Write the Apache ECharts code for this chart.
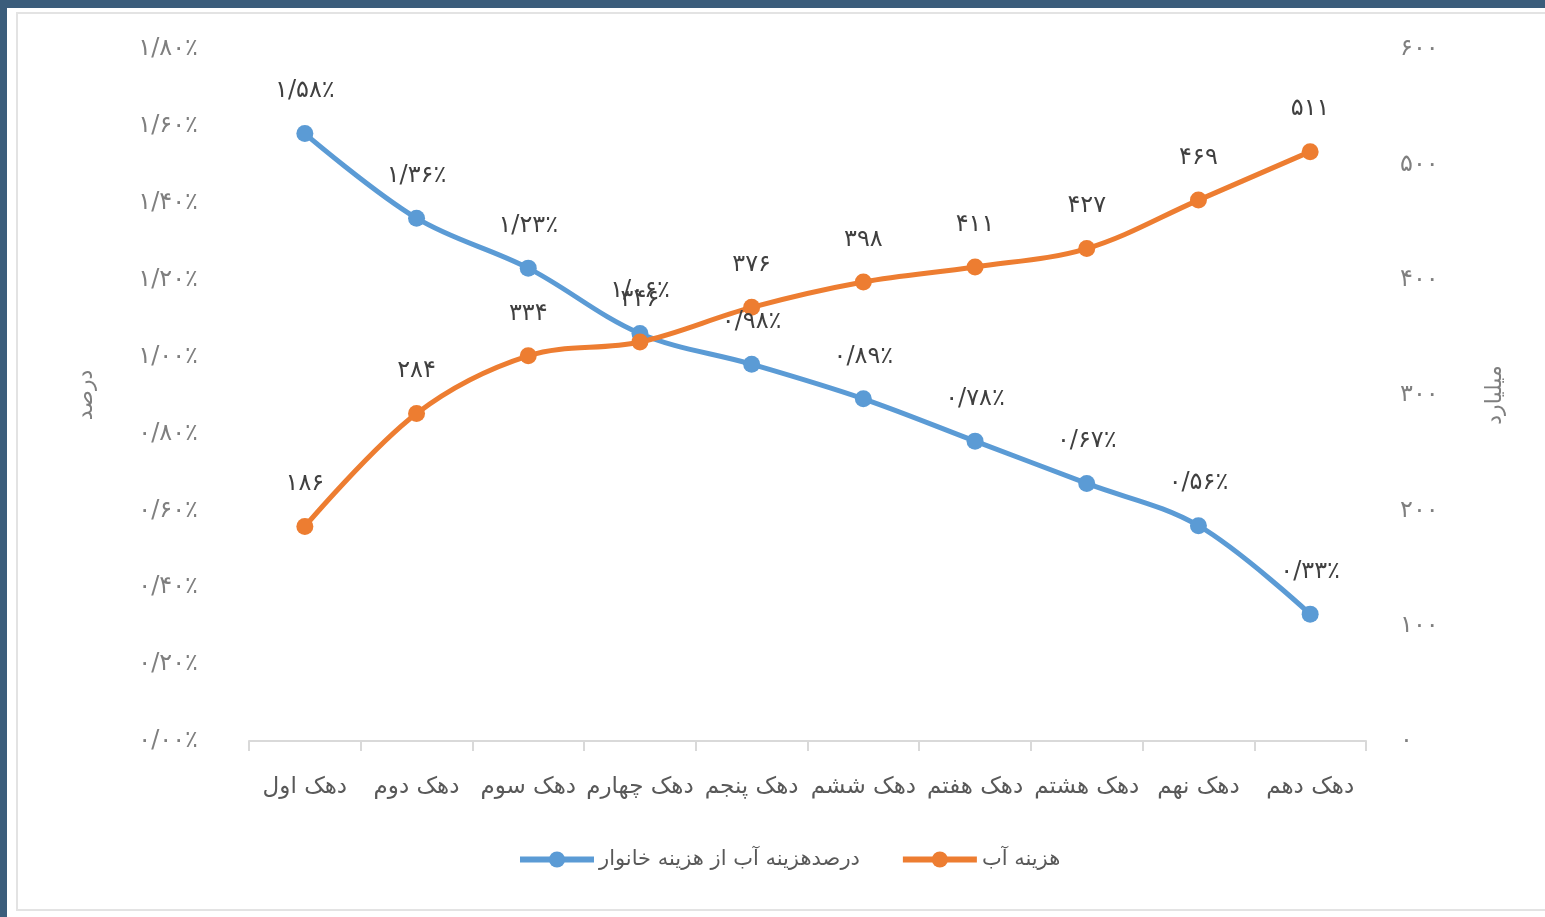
<!DOCTYPE html>
<html>
<head>
<meta charset="utf-8">
<script src="https://cdn.jsdelivr.net/npm/echarts@6/dist/echarts.min.js"></script>
<style>
  html, body { margin: 0; padding: 0; width: 1545px; height: 917px; overflow: hidden; background: #3b5d7b; }
  #panel { position: absolute; left: 7px; top: 8px; width: 1538px; height: 909px; background: #ffffff; }
  #frame { position: absolute; left: 16px; top: 12px; width: 1540px; height: 899px; border: 2px solid #e3e3e3; box-sizing: border-box; }
  #chart { position: absolute; left: 0; top: 0; width: 1545px; height: 917px; }
</style>
</head>
<body>
<div id="panel"></div>
<div id="frame"></div>
<div id="chart"></div>
<script>
const categories = ['دهک اول', 'دهک دوم', 'دهک سوم', 'دهک چهارم', 'دهک پنجم', 'دهک ششم', 'دهک هفتم', 'دهک هشتم', 'دهک نهم', 'دهک دهم'];
const percentShare = [1.58, 1.36, 1.23, 1.06, 0.98, 0.89, 0.78, 0.67, 0.56, 0.33];
const waterCost = [186, 284, 334, 346, 376, 398, 411, 427, 469, 511];
const percentSeriesName = 'درصدهزینه آب از هزینه خانوار';
const costSeriesName = 'هزینه آب';
const leftAxisName = 'درصد';
const rightAxisName = 'میلیارد';

const faDigits = '۰۱۲۳۴۵۶۷۸۹';
function toFa(s) { return String(s).replace(/[0-9]/g, d => faDigits[+d]).replace('.', '/'); }
function pct(v) { return toFa(v.toFixed(2)) + '٪'; }

const font = 'DejaVu Sans';
const chart = echarts.init(document.getElementById('chart'));
chart.setOption({
  backgroundColor: 'transparent',
  animation: false,
  textStyle: { fontFamily: font },
  grid: { left: 249, right: 179, top: 49, bottom: 176 },
  legend: {
    bottom: 42,
    left: 512,
    itemGap: 40,
    itemWidth: 74,
    itemHeight: 20,
    lineStyle: { width: 6 },
    textStyle: { fontSize: 21, color: '#595959', fontFamily: font },
    data: [percentSeriesName, costSeriesName]
  },
  xAxis: {
    type: 'category',
    data: categories,
    boundaryGap: true,
    axisLine: { lineStyle: { color: '#d9d9d9', width: 2 } },
    axisTick: { show: true, length: 10, lineStyle: { color: '#d9d9d9', width: 2 } },
    axisLabel: { fontSize: 23, color: '#595959', margin: 35, fontFamily: font, interval: 0 }
  },
  yAxis: [
    {
      type: 'value', min: 0, max: 1.8, interval: 0.2,
      name: leftAxisName, nameLocation: 'middle', nameGap: 152, nameRotate: 90,
      nameTextStyle: { fontSize: 22, color: '#7f7f7f', fontFamily: font },
      axisLine: { show: false }, axisTick: { show: false }, splitLine: { show: false },
      axisLabel: { fontSize: 24, color: '#7f7f7f', margin: 51, formatter: v => pct(v), fontFamily: font }
    },
    {
      type: 'value', min: 0, max: 600, interval: 100,
      name: rightAxisName, nameLocation: 'middle', nameGap: 118, nameRotate: 90,
      nameTextStyle: { fontSize: 22, color: '#7f7f7f', fontFamily: font },
      axisLine: { show: false }, axisTick: { show: false }, splitLine: { show: false },
      axisLabel: { fontSize: 24, color: '#7f7f7f', margin: 34, formatter: v => toFa(v), fontFamily: font }
    }
  ],
  series: [
    {
      name: percentSeriesName, type: 'line', yAxisIndex: 0, data: percentShare,
      smooth: 0.35, symbol: 'circle', symbolSize: 17,
      lineStyle: { color: '#5b9bd5', width: 5 },
      itemStyle: { color: '#5b9bd5' },
      label: { show: true, position: 'top', distance: 22, fontSize: 24, color: '#404040', fontFamily: font, formatter: p => pct(p.value) }
    },
    {
      name: costSeriesName, type: 'line', yAxisIndex: 1, data: waterCost,
      smooth: 0.35, symbol: 'circle', symbolSize: 17,
      lineStyle: { color: '#ed7d31', width: 5 },
      itemStyle: { color: '#ed7d31' },
      label: { show: true, position: 'top', distance: 22, fontSize: 24, color: '#404040', fontFamily: font, formatter: p => toFa(p.value) }
    }
  ]
});
</script>
</body>
</html>
